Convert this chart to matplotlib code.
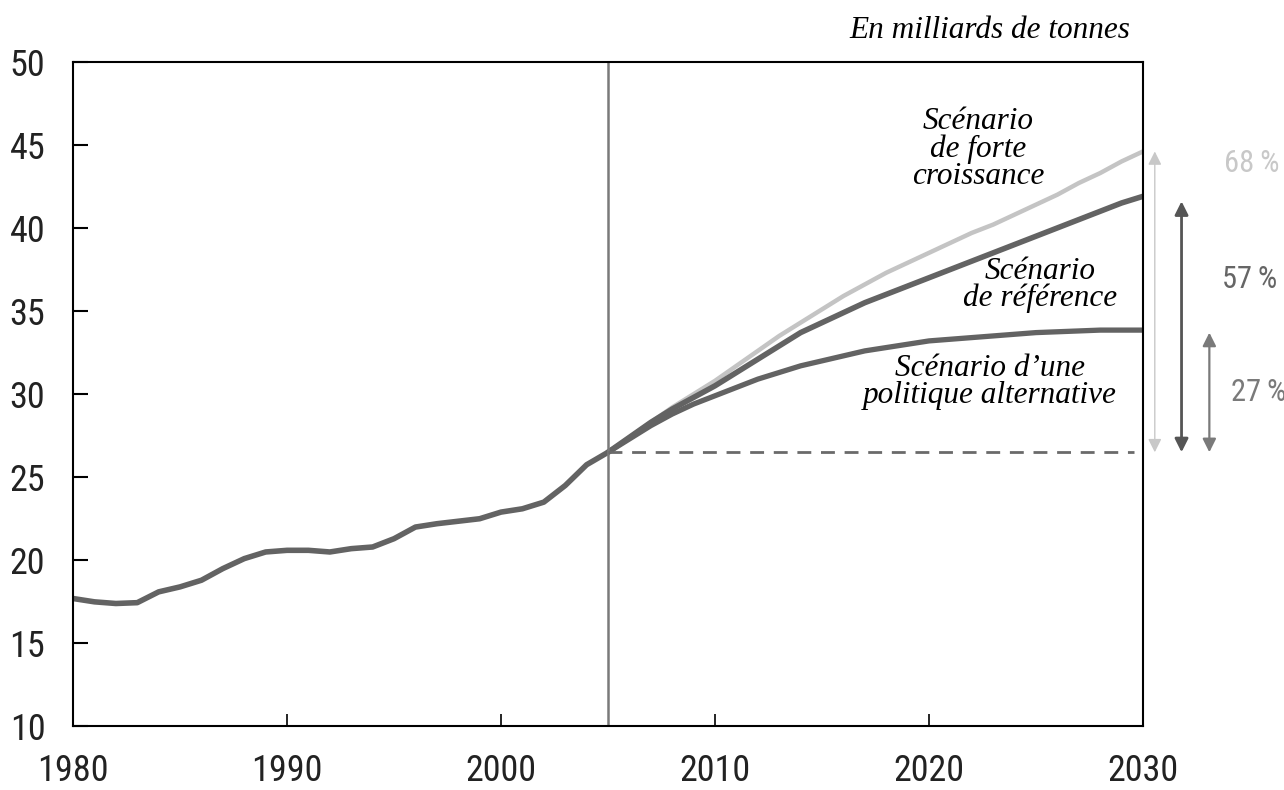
import numpy as np
import matplotlib.pyplot as plt
from matplotlib import font_manager

# ── Data (Gt CO2) ───────────────────────────────────────
hist_years = list(range(1980, 2006))
hist_vals = [17.7, 17.5, 17.4, 17.45, 18.1, 18.4, 18.8, 19.5, 20.1, 20.5,
             20.6, 20.6, 20.5, 20.7, 20.8, 21.3, 22.0, 22.2, 22.35, 22.5,
             22.9, 23.1, 23.5, 24.5, 25.75, 26.5]

proj_years = list(range(2005, 2031))
high_vals = [26.5, 27.4, 28.3, 29.2, 30.0, 30.8, 31.7, 32.6, 33.5, 34.3,
             35.1, 35.9, 36.6, 37.3, 37.9, 38.5, 39.1, 39.7, 40.2, 40.8,
             41.4, 42.0, 42.7, 43.3, 44.0, 44.6]
ref_vals = [26.5, 27.4, 28.3, 29.1, 29.8, 30.5, 31.3, 32.1, 32.9, 33.7,
            34.3, 34.9, 35.5, 36.0, 36.5, 37.0, 37.5, 38.0, 38.5, 39.0,
            39.5, 40.0, 40.5, 41.0, 41.5, 41.9]
alt_vals = [26.5, 27.3, 28.1, 28.8, 29.4, 29.9, 30.4, 30.9, 31.3, 31.7,
            32.0, 32.3, 32.6, 32.8, 33.0, 33.2, 33.3, 33.4, 33.5, 33.6,
            33.7, 33.75, 33.8, 33.85, 33.85, 33.85]

base_2005 = 26.5
pct_labels = ["68\u2009%", "57\u2009%", "27\u2009%"]
pct_tops = [44.6, 41.6, 33.7]

x_ticks = [1980, 1990, 2000, 2010, 2020, 2030]
y_ticks = [10, 15, 20, 25, 30, 35, 40, 45, 50]

# narrow sans for the numbers if one is there
names = {f.name for f in font_manager.fontManager.ttflist}
narrow = [n for n in ["Liberation Sans Narrow", "DejaVu Sans Condensed",
                      "Roboto Condensed", "Open Sans Condensed"] if n in names]
if narrow:
    SANS = [narrow[0], "DejaVu Sans"]
    TICK_FS, PCT_FS = 26, 22
else:
    SANS = ["Lato", "DejaVu Sans"]
    TICK_FS, PCT_FS = 22, 17
SERIF = ["Liberation Serif", "DejaVu Serif"]

DARK = "#636363"
LIGHT = "#c4c4c4"

# ── Figure ──────────────────────────────────────────────
fig = plt.figure(figsize=(12.84, 7.90), dpi=100)
ax = fig.add_axes([0.0569, 0.0804, 0.8333, 0.8415])

kw = dict(solid_capstyle="round", solid_joinstyle="round")
ax.plot(hist_years, hist_vals, color=DARK, lw=4.0, **kw)
ax.plot(proj_years, high_vals, color=LIGHT, lw=3.2, **kw)
ax.plot(proj_years, alt_vals, color=DARK, lw=3.8, **kw)
ax.plot(proj_years, ref_vals, color=DARK, lw=4.0, **kw)

ax.axvline(2005, color="#7a7a7a", lw=1.8)
ax.plot([2005, 2029.6], [base_2005, base_2005], color="#6a6a6a", lw=2.0,
        dashes=(5, 3.5))

ax.set_xlim(1980, 2030)
ax.set_ylim(10, 50)
ax.set_xticks(x_ticks)
ax.set_yticks(y_ticks)
ax.tick_params(axis="y", direction="in", length=11, width=1.5, pad=20,
               labelsize=TICK_FS)
ax.tick_params(axis="x", direction="in", length=9, width=1.2, pad=19,
               labelsize=TICK_FS)
for lab in ax.get_xticklabels() + ax.get_yticklabels():
    lab.set_family(SANS)
    lab.set_color("#222222")
for s in ax.spines.values():
    s.set_linewidth(1.5)

# ── Percentage arrows (outside the plot area) ──────────
arrow_x = [2030.55, 2031.8, 2033.1]
arrow_cols = ["#c8c8c8", "#555555", "#7a7a7a"]
text_cols = ["#c8c8c8", "#666666", "#7a7a7a"]
arrow_lw = [1.0, 2.0, 1.6]
text_xy = [(2035.1, 43.9), (2035.0, 36.9), (2035.4, 30.1)]
for x, top, c, tc, lw, lab, (tx, ty) in zip(arrow_x, pct_tops, arrow_cols,
                                            text_cols, arrow_lw, pct_labels,
                                            text_xy):
    ax.annotate("", xy=(x, top), xytext=(x, base_2005),
                arrowprops=dict(arrowstyle="<|-|>", color=c, lw=lw,
                                mutation_scale=20, shrinkA=0, shrinkB=0),
                annotation_clip=False)
    ax.text(tx, ty, lab, color=tc, fontsize=PCT_FS, family=SANS,
            ha="center", va="center", clip_on=False)

# ── Text labels ─────────────────────────────────────────
def ftext(x, y, s):
    fig.text(x / 1284, 1 - y / 790, s, family=SERIF, style="italic",
             fontsize=22.5, ha="center", va="center", linespacing=0.92)

ftext(990, 30, "En milliards de tonnes")
ftext(978, 149, "Scénario\nde forte\ncroissance")
ftext(1040, 285, "Scénario\nde référence")
ftext(990, 382, "Scénario d\u2019une\npolitique alternative")

fig.savefig("out.png", dpi=100, facecolor="white")
